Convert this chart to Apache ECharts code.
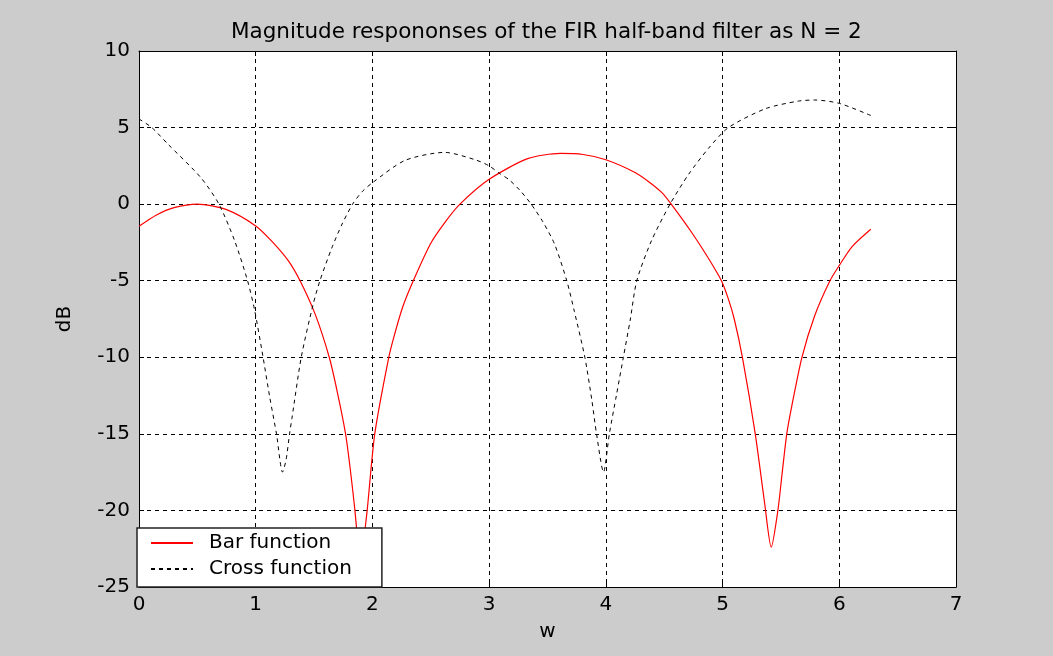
<!DOCTYPE html>
<html>
<head>
<meta charset="utf-8">
<script src="https://cdn.jsdelivr.net/npm/echarts@6/dist/echarts.min.js"></script>
<style>
html,body{margin:0;padding:0;background:#cccccc;}
#chart{width:1053px;height:656px;}
</style>
</head>
<body>
<div id="chart"></div>
<script>
const titleText = 'Magnitude respononses of the FIR half-band filter as N = 2';
const xTicks = [0, 1, 2, 3, 4, 5, 6, 7];
const yTicks = [-25, -20, -15, -10, -5, 0, 5, 10];

const barW  = [0, 0.15, 0.3, 0.5, 0.75, 1.0, 1.135, 1.28, 1.38, 1.51, 1.63, 1.70, 1.77, 1.81, 1.85, 1.88, 1.90, 1.925, 1.955, 2.02, 2.14, 2.19, 2.26, 2.35, 2.50, 2.62, 2.75, 3.0, 3.33, 3.61, 3.805, 4.0, 4.25, 4.37, 4.48, 4.56, 4.74, 4.88, 4.99, 5.05, 5.10, 5.17, 5.28, 5.36, 5.417, 5.474, 5.51, 5.55, 5.59, 5.68, 5.79, 5.92, 6.0, 6.11, 6.27];
const barDb = [-1.45, -0.71, -0.23, 0, -0.36, -1.42, -2.4, -3.7, -5, -7.2, -10, -12.3, -15, -17.3, -20, -22.5, -24, -22, -20, -15, -10, -8.5, -6.7, -5, -2.55, -1.2, 0, 1.62, 2.97, 3.31, 3.24, 2.9, 2.07, 1.45, 0.75, 0, -1.9, -3.55, -5.0, -6.2, -7.5, -10, -15, -19.5, -22.4, -20, -17.6, -15, -13.3, -10, -7.27, -5, -4.0, -2.77, -1.64];

const crossW  = [0, 0.11, 0.244, 0.53, 0.685, 0.82, 0.93, 0.99, 1.063, 1.12, 1.178, 1.23, 1.26, 1.29, 1.31, 1.39, 1.49, 1.55, 1.65, 1.74, 1.83, 1.91, 2.0, 2.28, 2.62, 2.88, 3.0, 3.09, 3.17, 3.27, 3.36, 3.46, 3.56, 3.665, 3.73, 3.82, 3.88, 3.92, 3.98, 4.03, 4.09, 4.15, 4.21, 4.265, 4.39, 4.55, 4.71, 4.88, 5.05, 5.37, 5.65, 5.79, 6.0, 6.27];
const crossDb = [5.56, 5.0, 3.95, 1.73, 0, -2.4, -5, -6.9, -10, -12.6, -15, -17.5, -16.7, -15, -14.0, -10, -6.6, -5, -2.9, -1.3, 0, 0.8, 1.4, 2.86, 3.38, 2.9, 2.5, 2.0, 1.6, 0.85, 0, -1.15, -2.6, -5, -7.0, -10, -12.8, -15, -17.5, -15, -12.5, -10, -7.5, -5, -2.4, 0, 1.96, 3.65, 5.0, 6.24, 6.73, 6.8, 6.58, 5.79];

const pair = (xs, ys) => xs.map((x, i) => [x, ys[i]]);
const font = 'DejaVu Sans, Verdana, sans-serif';
const gridLine = {show: true, lineStyle: {color: '#000', type: [4, 4], width: 1}};

const chart = echarts.init(document.getElementById('chart'));
const baseX = {
  type: 'value', min: xTicks[0], max: xTicks[xTicks.length - 1], interval: 1
};
const baseY = {
  type: 'value', min: yTicks[0], max: yTicks[yTicks.length - 1], interval: 5
};
const tick = {show: true, inside: true, length: 5, lineStyle: {color: '#000'}};
const axLine = {show: true, onZero: false, lineStyle: {color: '#000', width: 1}};
chart.setOption({
  backgroundColor: '#cccccc',
  animation: false,
  title: {
    text: titleText, left: 226, top: 16,
    textStyle: {fontFamily: font, fontSize: 21.5, fontWeight: 'normal', color: '#000'}
  },
  grid: {left: 139, right: 97, top: 51, bottom: 69, show: true, backgroundColor: '#fff', borderWidth: 0},
  legend: {
    left: 137, top: 528, orient: 'vertical',
    backgroundColor: '#fff', borderColor: '#222', borderWidth: 1.5, borderRadius: 0,
    padding: [5, 30, 8, 13], itemGap: 6, itemWidth: 42, itemHeight: 14,
    itemStyle: {opacity: 0},
    textStyle: {fontFamily: font, fontSize: 20, color: '#000', padding: [0, 0, 0, 11]},
    data: ['Bar function', 'Cross function']
  },
  xAxis: [
    Object.assign({}, baseX, {
      position: 'bottom',
      name: 'w', nameLocation: 'middle', nameGap: 35,
      nameTextStyle: {fontFamily: font, fontSize: 20, color: '#000'},
      axisLine: axLine, axisTick: tick,
      axisLabel: {fontFamily: font, fontSize: 20, color: '#000', margin: 8},
      splitLine: gridLine
    }),
    Object.assign({}, baseX, {
      position: 'top', axisLine: axLine, axisTick: tick,
      axisLabel: {show: false}, splitLine: {show: false}
    })
  ],
  yAxis: [
    Object.assign({}, baseY, {
      position: 'left',
      name: 'dB', nameLocation: 'middle', nameGap: 64,
      nameTextStyle: {fontFamily: font, fontSize: 20, color: '#000'},
      axisLine: axLine, axisTick: tick,
      axisLabel: {fontFamily: font, fontSize: 20, color: '#000', margin: 9},
      splitLine: gridLine
    }),
    Object.assign({}, baseY, {
      position: 'right', axisLine: axLine, axisTick: tick,
      axisLabel: {show: false}, splitLine: {show: false}
    })
  ],
  series: [
    {
      name: 'Bar function', type: 'line', data: pair(barW, barDb),
      symbol: 'none', smooth: 0.25,
      lineStyle: {color: '#ff0000', width: 1.2}, itemStyle: {color: '#ff0000'}
    },
    {
      name: 'Cross function', type: 'line', data: pair(crossW, crossDb),
      symbol: 'none', smooth: 0.25,
      lineStyle: {color: '#000', width: 1, type: [4, 4]}, itemStyle: {color: '#000'}
    }
  ]
});
</script>
</body>
</html>
